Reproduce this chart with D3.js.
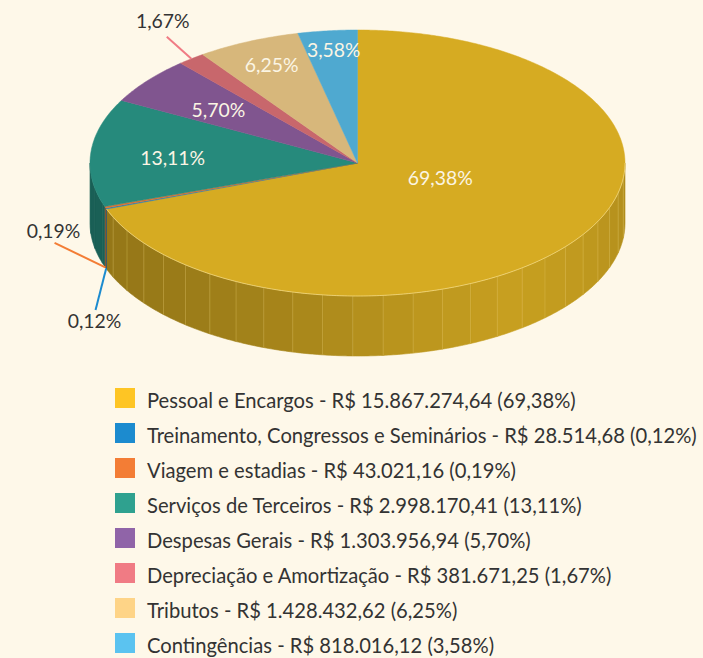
<!DOCTYPE html>
<html>
<head>
<meta charset="utf-8">
<script src="https://cdn.jsdelivr.net/npm/d3@7"></script>
<style>
  html, body { margin: 0; padding: 0; background: #FEF8E9; }
  svg { display: block; }
</style>
</head>
<body>
<svg id="chart" width="703" height="658"></svg>
<script>
// ---- data ----
const categories = [
  "Pessoal e Encargos",
  "Treinamento, Congressos e Seminários",
  "Viagem e estadias",
  "Serviços de Terceiros",
  "Despesas Gerais",
  "Depreciação e Amortização",
  "Tributos",
  "Contingências"
];
const amounts = [15867274.64, 28514.68, 43021.16, 2998170.41, 1303956.94, 381671.25, 1428432.62, 818016.12];
const percents = [69.38, 0.12, 0.19, 13.11, 5.70, 1.67, 6.25, 3.58];

// ---- styles ----
const legendColors = ["#FEC524", "#1C8BCF", "#F37D35", "#2FA18F", "#9064A8", "#F07B84", "#FED487", "#5BC3F0"];
const topColors    = ["#D6AB22", "#1C7FBD", "#E0712E", "#268A7C", "#80558F", "#C8676C", "#D7B77B", "#4FA9D0"];
const FONT = "Lato, 'Open Sans', sans-serif";

// number formatting in pt-BR style
const br = d3.formatLocale({ decimal: ",", thousands: ".", grouping: [3], currency: ["R$ ", ""] });
const fmtMoney = br.format(",.2f");
const fmtPct = br.format(".2f");

// ---- pie geometry (elliptical 3D disc) ----
const cx = 357.5, cy = 163, rx = 267.5, ry = 133, depth = 60;
const svg = d3.select("#chart");

const arcs = d3.pie().sort(null).value(d => d)(percents);
arcs.forEach((d, i) => d.index = i);

function pt(a, f = 1, dz = 0) {
  return [cx + f * rx * Math.sin(a), cy - f * ry * Math.cos(a) + dz];
}
function arcPoints(a0, a1, f = 1, dz = 0) {
  const n = Math.max(2, Math.ceil(Math.abs(a1 - a0) / 0.01));
  return d3.range(n + 1).map(i => pt(a0 + (a1 - a0) * i / n, f, dz));
}
const line = d3.line();

// side shading: darkening amount by angle (degrees, clockwise from top)
const shade = d3.scaleLinear()
  .domain([90, 105, 120, 145, 165, 180, 195, 215, 240, 270])
  .range([0.55, 0.45, 0.32, 0.2, 0.35, 0.5, 0.7, 0.88, 1.0, 1.05])
  .clamp(true);

const deg = r => r * 180 / Math.PI;
const step = 6.5 * Math.PI / 180;
const sideG = svg.append("g");
const facetLines = [];

arcs.forEach(d => {
  const a0 = Math.max(d.startAngle, Math.PI / 2);
  const a1 = Math.min(d.endAngle, 3 * Math.PI / 2);
  if (a1 <= a0) return;
  // split into facets on a common angular grid
  const cuts = [a0];
  let k = Math.floor((a0 - Math.PI / 2) / step) + 1;
  while (Math.PI / 2 + k * step < a1) { cuts.push(Math.PI / 2 + k * step); k++; }
  cuts.push(a1);
  for (let j = 0; j < cuts.length - 1; j++) {
    const s = cuts[j], e = cuts[j + 1];
    const top = arcPoints(s, e);
    const bot = arcPoints(e, s, 1, depth);
    const col = d3.color(topColors[d.index]).darker(shade(deg((s + e) / 2)));
    sideG.append("path")
      .attr("d", line(top.concat(bot)) + "Z")
      .attr("fill", col)
      .attr("stroke", col)
      .attr("stroke-width", 0.6);
    if (j > 0 && d.index === 0) facetLines.push(s);
  }
});

// faint highlights on facet edges
sideG.selectAll("line.facet")
  .data(facetLines)
  .join("line")
  .attr("class", "facet")
  .attr("x1", a => pt(a)[0]).attr("y1", a => pt(a)[1])
  .attr("x2", a => pt(a, 1, depth)[0]).attr("y2", a => pt(a, 1, depth)[1])
  .attr("stroke", "rgba(235,205,110,0.3)")
  .attr("stroke-width", 1);

// top faces
svg.append("g").selectAll("path")
  .data(arcs)
  .join("path")
  .attr("d", d => line([[cx, cy]].concat(arcPoints(d.startAngle, d.endAngle))) + "Z")
  .attr("fill", d => topColors[d.index])
  .attr("stroke", d => topColors[d.index])
  .attr("stroke-width", 0.5);

// light rim along the front top edge
svg.append("path")
  .attr("d", line(arcPoints(Math.PI / 2, d3.min([arcs[0].endAngle, 3 * Math.PI / 2]))))
  .attr("fill", "none")
  .attr("stroke", "rgba(255,236,170,0.55)")
  .attr("stroke-width", 1);

// ---- labels ----
// inside labels: radial fraction and vertical nudge for each slice
const insideLayout = { 0: [0.377, -14], 3: [0.693, 2], 4: [0.663, 2], 6: [0.785, -3], 7: [0.79, -9] };
// outside labels: leader vector from the rim anchor, label offset from leader end, anchor on top or bottom rim
const outsideLayout = {
  1: { v: [-10.6, 41.5], off: [-1, 11], bottom: true },
  2: { v: [-50.7, -24.4], off: [-1, -12], bottom: true },
  5: { v: [-24.6, -21.9], off: [-4, -16], bottom: false }
};

// pick a font size so that the label width fits the slice label style
function fitSize(text, target, base) {
  const t = svg.append("text").attr("font-family", FONT).attr("font-size", base).text(text);
  const w = t.node().getComputedTextLength();
  t.remove();
  return base * target / w;
}
const labelSize = fitSize("69,38%", 65, 18);

const labelG = svg.append("g")
  .attr("font-family", FONT)
  .attr("font-size", labelSize)
  .attr("text-anchor", "middle");

arcs.forEach(d => {
  const mid = (d.startAngle + d.endAngle) / 2;
  const txt = fmtPct(percents[d.index]) + "%";
  if (insideLayout[d.index]) {
    const [f, dy] = insideLayout[d.index];
    const p = pt(mid, f);
    labelG.append("text")
      .attr("x", p[0]).attr("y", p[1] + dy)
      .attr("dy", "0.36em")
      .attr("fill", "#FBF5E4")
      .text(txt);
  } else if (outsideLayout[d.index]) {
    const o = outsideLayout[d.index];
    const a = pt(mid, 1, o.bottom ? depth : 0);
    const b = [a[0] + o.v[0], a[1] + o.v[1]];
    labelG.append("line")
      .attr("x1", a[0]).attr("y1", a[1])
      .attr("x2", b[0]).attr("y2", b[1])
      .attr("stroke", legendColors[d.index])
      .attr("stroke-width", 2);
    labelG.append("text")
      .attr("x", b[0] + o.off[0]).attr("y", b[1] + o.off[1])
      .attr("dy", "0.36em")
      .attr("fill", "#333333")
      .text(txt);
  }
});

// ---- legend ----
const legendRows = categories.map((c, i) =>
  `${c} - R$ ${fmtMoney(amounts[i])} (${fmtPct(percents[i])}%)`);
const legendSize = fitSize(legendRows[1], 550, 18);

const legend = svg.append("g")
  .attr("font-family", FONT)
  .attr("font-size", legendSize);

const rows = legend.selectAll("g")
  .data(legendRows)
  .join("g")
  .attr("transform", (d, i) => `translate(115, ${398 + i * 35})`);

rows.append("rect")
  .attr("x", 0).attr("y", -10)
  .attr("width", 20).attr("height", 20)
  .attr("fill", (d, i) => legendColors[i]);

rows.append("text")
  .attr("x", 32).attr("y", 3)
  .attr("dy", "0.36em")
  .attr("fill", "#333333")
  .text(d => d);
</script>
</body>
</html>
